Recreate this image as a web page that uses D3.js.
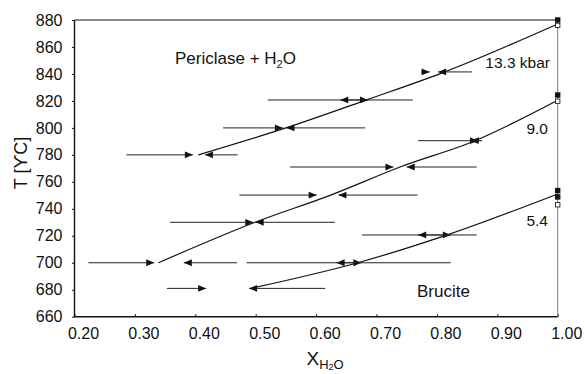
<!DOCTYPE html>
<html>
<head>
<meta charset="utf-8">
<script src="https://cdn.jsdelivr.net/npm/d3@7"></script>
<style>
  body { margin: 0; background: #fff; }
  svg text { font-family: "Liberation Sans", Arial, sans-serif; fill: #111; }
</style>
</head>
<body>
<div id="graph"></div>
<script>
// reaction curves, [X_H2O, T]
const curve133 = [[0.405, 780], [0.55, 800], [0.685, 821], [0.81, 841], [1.0, 877]];
const curve90 = [[0.339, 700], [0.499, 730], [0.623, 750], [0.739, 771], [0.863, 790.5], [1.0, 820.5]];
const curve54 = [[0.492, 681], [0.669, 700], [0.816, 720.5], [1.0, 751]];

// reversal runs, [T, start X, final X]
const reversals = [
    [841.5, 0.774, 0.788], [841.5, 0.858, 0.802],
    [820.7, 0.520, 0.686], [820.7, 0.760, 0.640],
    [800, 0.446, 0.545], [800, 0.681, 0.551],
    [790.5, 0.769, 0.868], [790.5, 0.875, 0.856],
    [780, 0.286, 0.396], [780, 0.470, 0.416],
    [771, 0.557, 0.728], [771, 0.866, 0.750],
    [750.2, 0.473, 0.601], [750.2, 0.768, 0.637],
    [730, 0.358, 0.496], [730, 0.631, 0.500],
    [720.6, 0.676, 0.823], [720.6, 0.866, 0.769],
    [700, 0.223, 0.332], [700, 0.469, 0.381], [700, 0.485, 0.675], [700, 0.823, 0.634],
    [681, 0.353, 0.418], [681, 0.615, 0.489]
];

// pure H2O end points
const endFilled = [880, 824.4, 753.5, 748.8];
const endOpen = [876, 819.8, 743];

const xTicks = [0.2, 0.3, 0.4, 0.5, 0.6, 0.7, 0.8, 0.9, 1.0];
const yTicks = [660, 680, 700, 720, 740, 760, 780, 800, 820, 840, 860, 880];

const curveLabels = [["13.3 kbar", 550, 68], ["9.0", 548, 133.5], ["5.4", 548, 226]];

function initial() {
    var W = 585, H = 374,
        m = {top: 20, right: 27.3, bottom: 57.3, left: 74.5};

    var svg = d3.select("#graph").append("svg")
        .attr("width", W)
        .attr("height", H);

    var x = d3.scaleLinear().domain([0.2, 1.0]).range([m.left, W - m.right]);
    var y = d3.scaleLinear().domain([660, 880]).range([H - m.bottom, m.top]);

    // axes
    var xAxis = svg.append("g")
        .attr("transform", "translate(0," + (H - m.bottom) + ")")
        .call(d3.axisBottom(x).tickValues(xTicks).tickFormat(d3.format(".2f"))
            .tickSizeInner(-2.5).tickSizeOuter(0).tickPadding(11));
    xAxis.selectAll("text").attr("dx", 8.5).style("font-size", "16px");

    var yAxis = svg.append("g")
        .attr("transform", "translate(" + m.left + ",0)")
        .call(d3.axisLeft(y).tickValues(yTicks).tickFormat(d3.format("d"))
            .tickSizeInner(2.5).tickSizeOuter(0).tickPadding(9.5));
    yAxis.selectAll("text").style("font-size", "16px");
    svg.selectAll(".domain").remove();
    svg.selectAll(".tick line").attr("stroke", "#111");

    // frame
    var x0 = x(0.2), x1 = x(1.0), y0 = y(660), y1 = y(880);
    svg.append("line").attr("x1", x0).attr("x2", x1).attr("y1", y1).attr("y2", y1)
        .attr("stroke", "#111").attr("stroke-width", 1);
    svg.append("line").attr("x1", x1).attr("x2", x1).attr("y1", y1).attr("y2", y0)
        .attr("stroke", "#7a7a7a").attr("stroke-width", 1);
    svg.append("line").attr("x1", x0).attr("x2", x0).attr("y1", y1).attr("y2", y0)
        .attr("stroke", "#111").attr("stroke-width", 1.4);
    svg.append("line").attr("x1", x0 - 0.7).attr("x2", x1).attr("y1", y0).attr("y2", y0)
        .attr("stroke", "#111").attr("stroke-width", 1.5);

    // reaction curves
    var line = d3.line()
        .x(function(d) { return x(d[0]); })
        .y(function(d) { return y(d[1]); })
        .curve(d3.curveMonotoneX);

    svg.selectAll(".rxn")
        .data([curve133, curve90, curve54])
        .enter()
        .append("path")
        .attr("class", "rxn")
        .attr("d", line)
        .attr("fill", "none")
        .attr("stroke", "#111")
        .attr("stroke-width", 1.2);

    // reversal arrows
    var arr = svg.selectAll(".rev")
        .data(reversals)
        .enter()
        .append("g")
        .attr("class", "rev");

    arr.append("line")
        .attr("x1", function(d) { return x(d[1]); })
        .attr("x2", function(d) { return x(d[2]); })
        .attr("y1", function(d) { return y(d[0]); })
        .attr("y2", function(d) { return y(d[0]); })
        .attr("stroke", "#222")
        .attr("stroke-width", 1);

    arr.append("path")
        .attr("d", function(d) {
            var tx = x(d[2]), ty = y(d[0]),
                dir = d[2] > d[1] ? -1 : 1, L = 8, hw = 3.4;
            return "M" + tx + "," + ty +
                "L" + (tx + dir * L) + "," + (ty - hw) +
                "L" + (tx + dir * L) + "," + (ty + hw) + "Z";
        })
        .attr("fill", "#111");

    // end members at X = 1
    var s = 5.4;
    svg.selectAll(".filled")
        .data(endFilled)
        .enter()
        .append("rect")
        .attr("x", x(1.0) - s / 2)
        .attr("y", function(d) { return y(d) - s / 2; })
        .attr("width", s).attr("height", s)
        .attr("fill", "#111");

    svg.selectAll(".open")
        .data(endOpen)
        .enter()
        .append("rect")
        .attr("x", x(1.0) - s / 2 + 0.5)
        .attr("y", function(d) { return y(d) - s / 2 + 0.5; })
        .attr("width", s - 1).attr("height", s - 1)
        .attr("fill", "#fff")
        .attr("stroke", "#222")
        .attr("stroke-width", 0.9);

    // field labels
    var per = svg.append("text")
        .attr("x", 175).attr("y", 64)
        .style("font-size", "17px");
    per.append("tspan").text("Periclase + H");
    per.append("tspan").attr("dy", 3.5).style("font-size", "11px").text("2");
    per.append("tspan").attr("dy", -3.5).text("O");

    svg.append("text")
        .attr("x", 417).attr("y", 296.5)
        .style("font-size", "17px")
        .text("Brucite");

    svg.selectAll(".clab")
        .data(curveLabels)
        .enter()
        .append("text")
        .attr("x", function(d) { return d[1]; })
        .attr("y", function(d) { return d[2]; })
        .attr("text-anchor", "end")
        .style("font-size", "15.5px")
        .text(function(d) { return d[0]; });

    // axis titles
    var xt = svg.append("text")
        .attr("x", 306.5).attr("y", 364.5)
        .style("font-size", "19px");
    xt.append("tspan").text("X");
    xt.append("tspan").attr("dy", 4).style("font-size", "13px").text("H");
    xt.append("tspan").attr("dy", 1.5).style("font-size", "9px").text("2");
    xt.append("tspan").attr("dy", -1.5).style("font-size", "13px").text("O");

    svg.append("text")
        .attr("transform", "translate(26.5,163) rotate(-90)")
        .attr("text-anchor", "middle")
        .style("font-size", "18px")
        .text("T [ϒC]");
}

initial();
</script>
</body>
</html>
